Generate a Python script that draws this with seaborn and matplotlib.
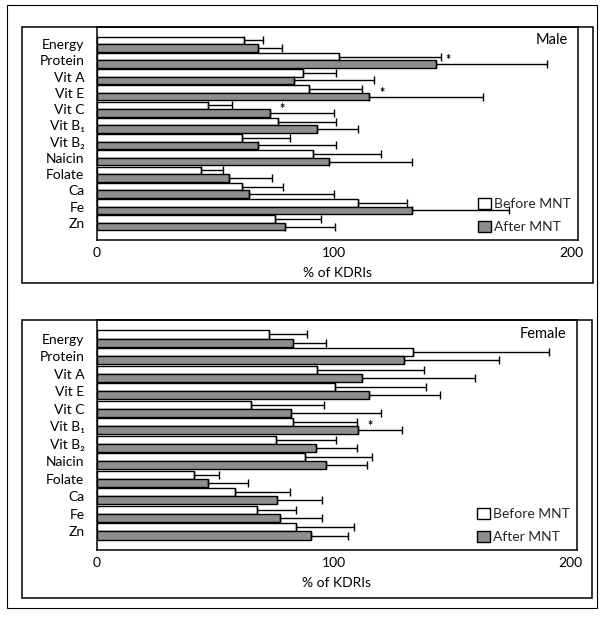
import matplotlib
matplotlib.use("Agg")
import matplotlib.pyplot as plt
import seaborn as sns
import pandas as pd
import numpy as np
from matplotlib.patches import Patch, Rectangle

categories = ["Energy", "Protein", "Vit A", "Vit E", "Vit C", "Vit B\u2081", "Vit B\u2082",
              "Naicin", "Folate", "Ca", "Fe", "Zn"]
groups = ["Before MNT", "After MNT"]

male_before = [62, 102, 87, 89.5, 47, 76.5, 61, 91, 44, 61, 110, 75]
male_before_sd = [8, 43, 14, 22.5, 10, 24.5, 20.5, 29, 9, 17.5, 21, 19.5]
male_after = [68, 143, 83, 115, 73, 93, 68, 98, 55.5, 64, 133, 79.5]
male_after_sd = [10, 47, 34, 48, 27, 17, 33, 35, 18.5, 36, 41, 21]
male_sig = ["Protein", "Vit E", "Vit C"]

female_before = [72.6, 133.5, 93, 100.5, 65, 83, 75.5, 88, 41, 58.5, 67.7, 84]
female_before_sd = [16.4, 57.5, 45.5, 38.5, 31, 27, 25.5, 28.5, 10.5, 23.1, 16.3, 24.5]
female_after = [82.7, 130, 112, 115, 82, 110.5, 92.5, 97, 47, 76, 77.6, 90.7]
female_after_sd = [14.3, 40, 48, 30, 38, 18.5, 17.5, 17, 17, 19, 17.4, 15.3]
female_sig = ["Vit B\u2081"]

x_ticks = [0, 100, 200]
x_label = "% of KDRIs"

sns.set_theme(style="white")
plt.rcParams["font.family"] = ["Lato", "DejaVu Sans"]

W, H = 605, 618
fig = plt.figure(figsize=(W / 100, H / 100), dpi=100)

def fx(px):
    return px / W

def fy(py):
    return 1 - py / H

palette = {"Before MNT": "white", "After MNT": "#8e8e8e"}


def panel(ax_rect, before, before_sd, after, after_sd, sig, title):
    l, t, r, b = ax_rect
    ax = fig.add_axes([fx(l), fy(b), fx(r - l), (b - t) / H])
    df = pd.DataFrame({
        "cat": categories * 2,
        "group": [groups[0]] * len(categories) + [groups[1]] * len(categories),
        "val": list(before) + list(after),
    })
    sns.barplot(data=df, y="cat", x="val", hue="group", hue_order=groups,
                order=categories, palette=palette, orient="h", width=0.92,
                edgecolor="black", linewidth=1.0, errorbar=None, legend=False,
                ax=ax, saturation=1)
    sds = [before_sd, after_sd]
    for cont, sd in zip(ax.containers, sds):
        xs = np.array([p.get_width() for p in cont.patches])
        ys = np.array([p.get_y() + p.get_height() / 2 for p in cont.patches])
        ax.errorbar(xs, ys, xerr=[np.zeros_like(xs), np.array(sd)], fmt="none",
                    ecolor="black", elinewidth=1.0, capsize=3, capthick=1.0)
    after_cont = ax.containers[1]
    for name in sig:
        i = categories.index(name)
        p = after_cont.patches[i]
        ax.text(p.get_width() + 4, p.get_y() - 0.02, "*", ha="left", va="center",
                fontsize=9, fontweight="bold", color="black")
    ax.set_xlim(0, 203)
    ax.set_xticks(x_ticks)
    ax.set_xticklabels([str(v) for v in x_ticks])
    ax.tick_params(axis="both", length=0, labelsize=10, colors="black")
    ax.tick_params(axis="x", pad=5)
    ax.tick_params(axis="y", pad=9)
    ax.set_ylabel("")
    ax.set_xlabel(x_label, fontsize=10, labelpad=6, color="black")
    for s in ax.spines.values():
        s.set_visible(True)
        s.set_color("black")
        s.set_linewidth(1.1)
    ax.text(0.978, 0.94, title, transform=ax.transAxes, ha="right", va="center",
            fontsize=10.5, color="black")
    handles = [Patch(facecolor=palette[g], edgecolor="black", linewidth=1.0, label=g)
               for g in groups]
    ax.legend(handles=handles, loc="lower right", frameon=False, fontsize=10,
              handlelength=0.9, handleheight=0.9, handletextpad=0.25,
              labelspacing=0.75, borderaxespad=0.3, borderpad=0.2)
    return ax


panel((97, 27, 578, 240), male_before, male_before_sd, male_after, male_after_sd,
      male_sig, "Male")
panel((97, 320, 577, 550), female_before, female_before_sd, female_after,
      female_after_sd, female_sig, "Female")

# panel boxes and outer frame
for (l, t, r, b), lw in [((22, 27, 593, 283), 1.1), ((22, 320, 592, 598), 1.1),
                         ((7, 5, 597, 608), 0.8)]:
    fig.add_artist(Rectangle((fx(l), fy(b)), fx(r - l), (b - t) / H,
                             transform=fig.transFigure, fill=False,
                             edgecolor="black", linewidth=lw))

fig.savefig("out.png", dpi=100, facecolor="white")
